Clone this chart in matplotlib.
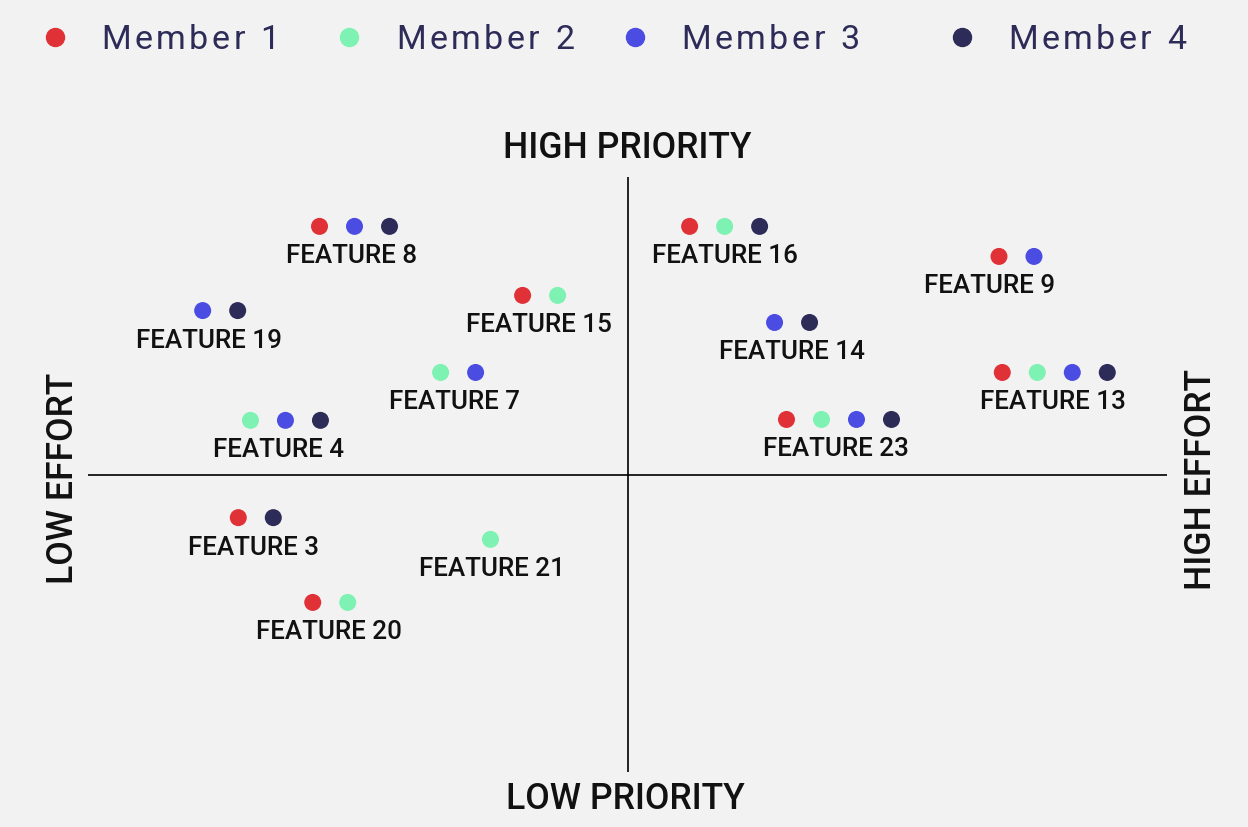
import matplotlib
matplotlib.use("Agg")
import matplotlib.pyplot as plt
import matplotlib.transforms as mtransforms

# members and colours
members = ["Member 1", "Member 2", "Member 3", "Member 4"]
member_colors = ["#E03136", "#7DF2B2", "#4B4CE2", "#2D2B57"]

# features: effort (x) / priority (y) on a -100..100 scale
features = ["FEATURE 8", "FEATURE 19", "FEATURE 15", "FEATURE 7", "FEATURE 4",
            "FEATURE 3", "FEATURE 21", "FEATURE 20", "FEATURE 16", "FEATURE 9",
            "FEATURE 14", "FEATURE 13", "FEATURE 23"]
effort = [-50.6, -75.5, -16.2, -31.4, -63.4, -68.9, -25.4, -55.1,
          18.0, 72.1, 30.5, 79.2, 39.2]
priority = [83.4, 55.1, 60.2, 34.3, 18.2, -14.5, -21.8, -43.0,
            83.4, 73.3, 51.1, 34.3, 18.5]
label_effort = [-51.2, -77.5, -16.5, -32.1, -64.7, -69.3, -25.2, -55.4,
                18.0, 67.1, 30.4, 78.8, 38.7]
# which members voted for each feature (index into members)
votes = [[0, 2, 3], [2, 3], [0, 1], [1, 2], [1, 2, 3],
         [0, 3], [1], [0, 1], [0, 1, 3], [0, 2],
         [2, 3], [0, 1, 2, 3], [0, 1, 2, 3]]

W, H, DPI = 1248, 828, 100
BG = "#F2F2F2"
FONT = "Roboto"

fig = plt.figure(figsize=(W / DPI, H / DPI), dpi=DPI, facecolor=BG)
ax = fig.add_axes([88 / W, (H - 773) / H, (1167 - 88) / W, (773 - 178) / H])
ax.set_facecolor(BG)
ax.set_xlim(-100, 100)
ax.set_ylim(-100, 100)
ax.axis("off")
ax.axhline(0, color="black", lw=1.2)
ax.axvline(0, color="black", lw=1.2)

px = 72.0 / DPI  # one pixel in points
spacing = 35 * px  # dot spacing, points

for i, name in enumerate(features):
    v = votes[i]
    n = len(v)
    for j, m in enumerate(v):
        dx = (j - (n - 1) / 2.0) * spacing / 72.0
        tr = ax.transData + mtransforms.ScaledTranslation(dx, 0, fig.dpi_scale_trans)
        ax.scatter([effort[i]], [priority[i]], s=(17 * px) ** 2, color=member_colors[m],
                   transform=tr, edgecolors="none", zorder=3, clip_on=False)
    ax.annotate(name, xy=(label_effort[i], priority[i]), xytext=(0, -36 * px),
                textcoords="offset points", ha="center", va="baseline",
                fontsize=18.7, fontfamily=FONT, fontweight="medium", color="#111111")

# axis titles
title_kw = dict(fontsize=25.6, fontfamily=FONT, fontweight="medium", color="#111111")
fig.text(627 / W, 1 - 158 / H, "HIGH PRIORITY", ha="center", va="baseline", **title_kw)
fig.text(625 / W, 1 - 809 / H, "LOW PRIORITY", ha="center", va="baseline", **title_kw)
fig.text(73 / W, 1 - 478 / H, "LOW EFFORT", ha="center", va="baseline", rotation=90,
         rotation_mode="anchor", **title_kw)
fig.text(1211 / W, 1 - 480 / H, "HIGH EFFORT", ha="center", va="baseline", rotation=90,
         rotation_mode="anchor", **title_kw)

# legend, drawn by hand because of the letter spacing
renderer = fig.canvas.get_renderer()


def spaced_text(x0, y0, s, track, **kw):
    """Place text s char by char with extra tracking (pixels)."""
    for k, ch in enumerate(s):
        if ch == " ":
            continue
        pre = s[:k]
        w = 0.0
        if pre:
            probe = fig.text(0, 0, pre + "|", **kw)
            bar = fig.text(0, 0, "|", **kw)
            w = probe.get_window_extent(renderer).width - bar.get_window_extent(renderer).width
            probe.remove()
            bar.remove()
        fig.text((x0 + w + k * track) / W, 1 - y0 / H, ch, ha="left", va="baseline", **kw)


legend_dot_x = [55, 349, 635, 962]
legend_text_x = [101, 396, 681, 1008]
for k, name in enumerate(members):
    fig.add_artist(plt.Line2D([legend_dot_x[k] / W], [1 - 38 / H], marker="o",
                              markersize=18 * px, color=member_colors[k], lw=0,
                              transform=fig.transFigure))
    spaced_text(legend_text_x[k], 49, name, 3.5, fontsize=24.5, fontfamily=FONT,
                color="#2D2B57")

fig.savefig("out.png", dpi=DPI, facecolor=BG)
